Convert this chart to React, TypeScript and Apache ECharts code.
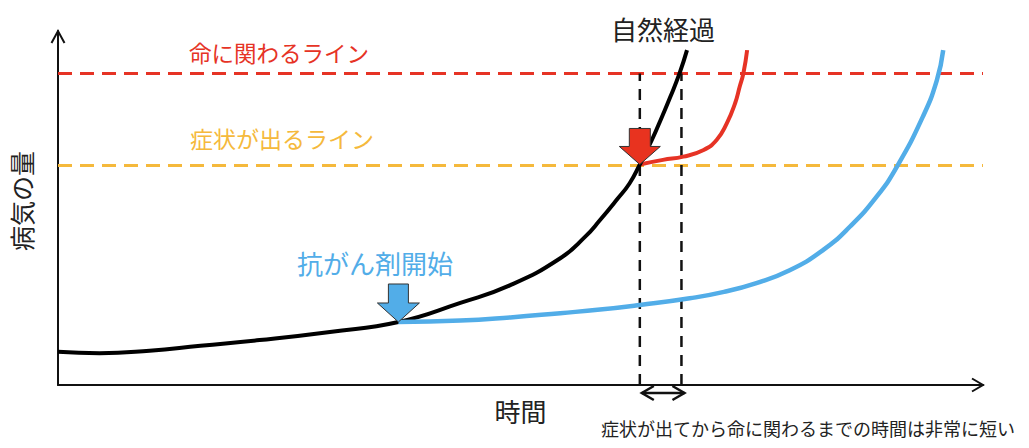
import React, { useEffect, useRef } from "react";
import * as echarts from "echarts";

// Abstract axes: time (x) and amount of disease (y), both 0..100
const xRange: [number, number] = [0, 100];
const yRange: [number, number] = [0, 100];

// Threshold levels
const lifeThreatLevel = 88; // 命に関わるライン
const symptomLevel = 62; // 症状が出るライン

// Times marked with vertical dashed lines
const symptomTime = 62.9;
const lifeThreatTime = 67.4;

// 自然経過 (natural course)
const naturalCourse: [number, number][] = [
  [0, 9.4], [4.5, 9.0], [9.9, 9.7], [15.4, 11.1], [21.8, 12.7],
  [29.4, 15.0], [36.8, 17.8], [43.5, 23.2], [48.9, 28.2], [54.3, 35.8],
  [57.0, 41.9], [58.6, 46.6], [60.4, 52.3], [61.8, 57.0], [62.9, 62.3],
  [64.2, 69.2], [65.3, 75.8], [66.2, 81.4], [67.2, 88.1], [68.0, 94.6],
];

// 抗がん剤開始 → treatment course
const chemoCourse: [number, number][] = [
  [36.8, 17.8], [43.5, 18.2], [48.9, 19.1], [54.3, 20.3], [58.6, 21.3],
  [62.9, 22.6], [68.3, 24.5], [72.0, 26.3], [75.5, 28.8], [79.1, 32.4],
  [82.7, 38.1], [85.6, 44.7], [88.5, 53.2], [90.7, 61.7], [93.5, 75.8],
  [95.0, 86.0], [95.7, 94.6],
];

// Treatment started after symptoms appear
const lateCourse: [number, number][] = [
  [62.9, 62.3], [65.4, 63.6], [67.6, 64.5], [69.8, 66.4], [71.2, 69.2],
  [72.3, 73.9], [73.2, 79.6], [73.7, 84.3], [74.1, 88.1], [74.5, 94.6],
];

const axisNames = ["時間", "病気の量"];
const labelTexts = [
  "命に関わるライン",
  "症状が出るライン",
  "自然経過",
  "抗がん剤開始",
  "症状が出てから命に関わるまでの時間は非常に短い",
];

const FONT = '"Noto Sans CJK JP", "Noto Sans", sans-serif';
const RED = "#E63325";
const ORANGE = "#F5B93C";
const BLUE = "#52ADE8";
const BLACK = "#000000";

export default function App() {
  const ref = useRef<HTMLDivElement>(null);

  useEffect(() => {
    const el = ref.current;
    if (!el) return;
    const chart = echarts.init(el, null, { renderer: "svg" });

    const axisCommon = {
      type: "value" as const,
      axisTick: { show: false },
      axisLabel: { show: false },
      splitLine: { show: false },
      axisLine: { show: true, lineStyle: { color: "#111", width: 2 } },
      nameLocation: "middle" as const,
    };

    chart.setOption({
      animation: false,
      grid: { left: 58, right: 46, top: 31, bottom: 63, outerBoundsMode: "none", containLabel: false },
      xAxis: {
        ...axisCommon,
        min: xRange[0],
        max: xRange[1],
        name: axisNames[0],
        nameGap: 12,
        nameTextStyle: { fontSize: 26, color: "#222", fontFamily: FONT },
      },
      yAxis: {
        ...axisCommon,
        min: yRange[0],
        max: yRange[1],
      },
      series: [
        {
          type: "line",
          data: [[xRange[0], lifeThreatLevel], [xRange[1], lifeThreatLevel]],
          symbol: "none",
          silent: true,
          lineStyle: { color: RED, width: 3, type: [14, 8] },
        },
        {
          type: "line",
          data: [[xRange[0], symptomLevel], [xRange[1], symptomLevel]],
          symbol: "none",
          silent: true,
          lineStyle: { color: ORANGE, width: 3, type: [14, 8] },
        },
        {
          type: "line",
          data: [[symptomTime, 0], [symptomTime, lifeThreatLevel]],
          symbol: "none",
          silent: true,
          lineStyle: { color: "#111", width: 2.5, type: [11, 8] },
        },
        {
          type: "line",
          data: [[lifeThreatTime, 0], [lifeThreatTime, lifeThreatLevel]],
          symbol: "none",
          silent: true,
          lineStyle: { color: "#111", width: 2.5, type: [11, 8] },
        },
        {
          type: "line",
          data: lateCourse,
          symbol: "none",
          smooth: 0.5,
          lineStyle: { color: RED, width: 4 },
        },
        {
          type: "line",
          data: naturalCourse,
          symbol: "none",
          smooth: 0.5,
          lineStyle: { color: BLACK, width: 4 },
        },
        {
          type: "line",
          data: chemoCourse,
          symbol: "none",
          smooth: 0.5,
          lineStyle: { color: BLUE, width: 4.5 },
        },
      ],
    });

    const px = (p: [number, number]) =>
      chart.convertToPixel({ gridIndex: 0 }, p) as number[];

    const xTip = px([xRange[1], yRange[0]]);
    const yTip = px([xRange[0], yRange[1]]);
    const redTip = px(lateCourse[0]);
    const blueTip = px(chemoCourse[0]);
    const dA = px([symptomTime, 0]);
    const dB = px([lifeThreatTime, 0]);

    const blockArrow = (tip: number[], fill: string, sw: number, hw: number, hh: number, sh: number) => ({
      type: "polygon",
      z: 100,
      shape: {
        points: [
          [tip[0], tip[1]],
          [tip[0] - hw, tip[1] - hh],
          [tip[0] - sw, tip[1] - hh],
          [tip[0] - sw, tip[1] - hh - sh],
          [tip[0] + sw, tip[1] - hh - sh],
          [tip[0] + sw, tip[1] - hh],
          [tip[0] + hw, tip[1] - hh],
        ],
      },
      style: { fill, stroke: "#333", lineWidth: 1 },
    });

    const text = (t: string, x: number, y: number, size: number, color: string, rotation = 0) => ({
      type: "text",
      x,
      y,
      rotation,
      z: 100,
      style: {
        text: t,
        fontSize: size,
        fontFamily: FONT,
        fill: color,
        align: "center",
        verticalAlign: "middle",
      },
    });

    const dy = dA[1] + 8;
    const dLeft = dA[0] + 2;
    const dRight = dB[0] + 3;

    chart.setOption({
      graphic: [
        {
          type: "polyline",
          shape: { points: [[xTip[0] - 11, xTip[1] - 6.5], [xTip[0], xTip[1]], [xTip[0] - 11, xTip[1] + 6.5]] },
          style: { stroke: "#111", lineWidth: 2, fill: "none" },
        },
        {
          type: "polyline",
          shape: { points: [[yTip[0] - 6.5, yTip[1] + 12], [yTip[0], yTip[1]], [yTip[0] + 6.5, yTip[1] + 12]] },
          style: { stroke: "#111", lineWidth: 2, fill: "none" },
        },
        blockArrow(redTip, "#E8331F", 10.5, 20.5, 18, 18),
        blockArrow(blueTip, "#52ADE8", 10, 21, 19, 19),
        {
          type: "line",
          shape: { x1: dLeft, y1: dy, x2: dRight, y2: dy },
          style: { stroke: "#111", lineWidth: 2.5 },
        },
        {
          type: "polyline",
          shape: { points: [[dLeft + 12, dy - 7], [dLeft, dy], [dLeft + 12, dy + 7]] },
          style: { stroke: "#111", lineWidth: 2.5, fill: "none" },
        },
        {
          type: "polyline",
          shape: { points: [[dRight - 12, dy - 7], [dRight, dy], [dRight - 12, dy + 7]] },
          style: { stroke: "#111", lineWidth: 2.5, fill: "none" },
        },
        text(axisNames[1], 21, 201, 25, "#222", Math.PI / 2),
        text(labelTexts[0], 279, 52, 22.5, RED),
        text(labelTexts[1], 282, 138, 23, ORANGE),
        text(labelTexts[2], 663, 28, 26, "#222"),
        text(labelTexts[3], 375, 262, 26, BLUE),
        text(labelTexts[4], 808, 428, 18, "#222"),
      ],
    });

    return () => chart.dispose();
  }, []);

  return (
    <div
      ref={ref}
      style={{ position: "fixed", left: 0, top: 0, width: 1029, height: 448, background: "#fff" }}
    />
  );
}
